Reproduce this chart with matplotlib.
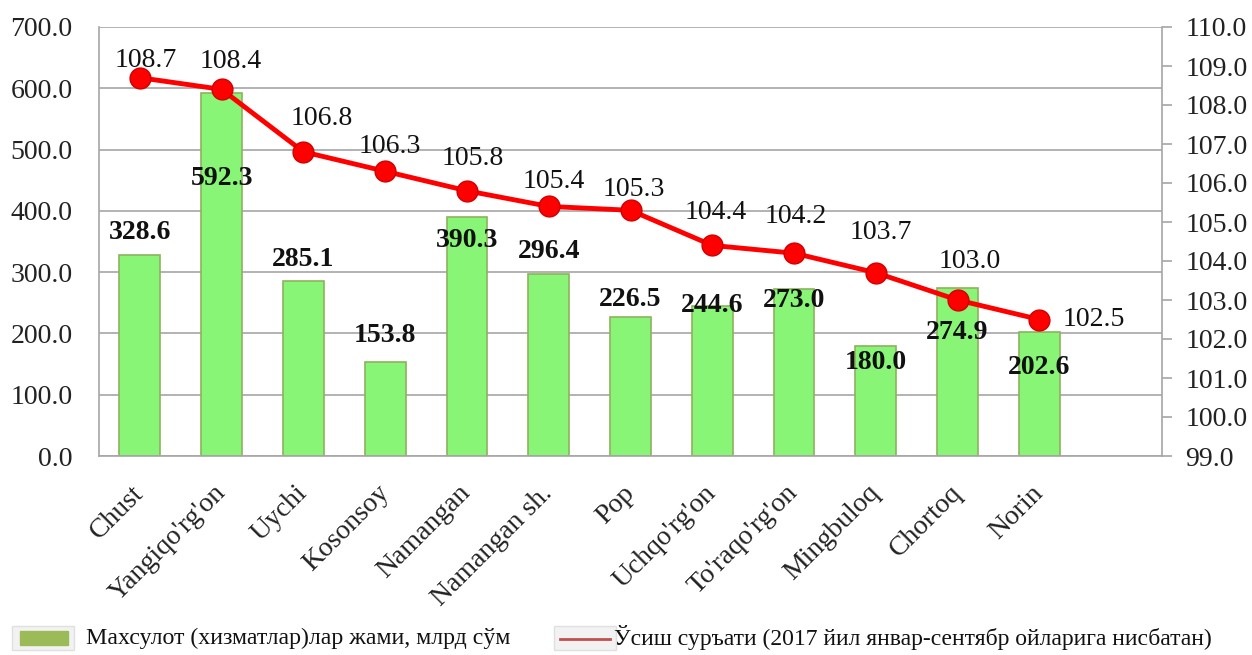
import matplotlib
matplotlib.use("Agg")
import matplotlib.pyplot as plt
import matplotlib.patches as mpatches
from matplotlib.lines import Line2D

categories = ["Chust", "Yangiqo'rg'on", "Uychi", "Kosonsoy", "Namangan", "Namangan sh.",
              "Pop", "Uchqo'rg'on", "To'raqo'rg'on", "Mingbuloq", "Chortoq", "Norin"]
volume = [328.6, 592.3, 285.1, 153.8, 390.3, 296.4, 226.5, 244.6, 273.0, 180.0, 274.9, 202.6]
growth = [108.7, 108.4, 106.8, 106.3, 105.8, 105.4, 105.3, 104.4, 104.2, 103.7, 103.0, 102.5]
left_ticks = [0, 100, 200, 300, 400, 500, 600, 700]
right_ticks = [99, 100, 101, 102, 103, 104, 105, 106, 107, 108, 109, 110]
legend_labels = ["Махсулот (хизматлар)лар жами, млрд сўм",
                 "Ўсиш суръати (2017 йил январ-сентябр ойларига нисбатан)"]

# label placement (style only): bar-label centre heights, line-label offsets in pixels
bar_label_y = [365, 453, 320, 196, 352, 333, 256, 246, 253, 153, 201, 145]
line_label_off = [(6, 17), (9, 28), (18, 33), (5, 25), (6, 32), (5, 25),
                  (3, 21), (3, 33), (2, 37), (5, 40), (12, 39), (54, 0)]

FONT = "Liberation Serif"
plt.rcParams["font.family"] = [FONT, "DejaVu Serif"]

fig = plt.figure(figsize=(12.52, 6.55), dpi=100)
ax = fig.add_axes([99/1252, 1-456/655, (1162-99)/1252, (456-27)/655])
x = list(range(len(categories)))

ax.bar(x, volume, width=0.5, color="#88F577", edgecolor="#8DB25E", linewidth=1.2, zorder=2)
ax.set_xlim(-0.5, 12.5)
ax.set_ylim(0, 700)
ax.set_yticks(left_ticks)
ax.set_yticklabels([f"{t:.1f}" for t in left_ticks], fontsize=20, color="#222222")
ax.tick_params(axis="y", length=0, pad=19)
ax.grid(axis="y", color="#A6A6A6", linewidth=1.2, zorder=0)
ax.set_axisbelow(True)
ax.set_xticks(x)
ax.set_xticklabels(categories, fontsize=20, rotation=45, ha="right", va="center",
                   rotation_mode="anchor", color="#222222")
ax.tick_params(axis="x", length=0, pad=24)
for s in ["left", "bottom"]:
    ax.spines[s].set_color("#A6A6A6")
    ax.spines[s].set_linewidth(1.2)
ax.spines["top"].set_visible(False)
ax.spines["right"].set_visible(False)

for xi, v, ly in zip(x, volume, bar_label_y):
    ax.text(xi, ly, f"{v:.1f}", ha="center", va="center", fontsize=20,
            fontweight="bold", color="#111111", zorder=5)

ax2 = ax.twinx()
ax2.set_ylim(99, 110)
ax2.set_yticks(right_ticks)
ax2.set_yticklabels([f"{t:.1f}" for t in right_ticks], fontsize=20, color="#222222")
ax2.tick_params(axis="y", length=7, width=1.2, color="#A6A6A6", pad=10, direction="out")
for s in ["left", "top", "bottom"]:
    ax2.spines[s].set_visible(False)
ax2.spines["right"].set_color("#A6A6A6")
ax2.spines["right"].set_linewidth(1.2)
ax2.plot(x, growth, color="#FF0000", linewidth=3.5, marker="o", markersize=15,
         markerfacecolor="#FF0000", markeredgecolor="#D00000", markeredgewidth=1, zorder=4)
for xi, v, (dx, dy) in zip(x, growth, line_label_off):
    ax2.annotate(f"{v:.1f}", (xi, v), xytext=(dx * 0.72, dy * 0.72), textcoords="offset points",
                 ha="center", va="center", fontsize=20, color="#111111")

# legend
fig.patches.append(mpatches.Rectangle((12/1252, 1-650/655), 62/1252, 24/655,
                   transform=fig.transFigure, facecolor="#F2F2F2", edgecolor="#E0E0E0", linewidth=1))
fig.patches.append(mpatches.Rectangle((20/1252, 1-645/655), 48/1252, 14/655,
                   transform=fig.transFigure, facecolor="#9BBB59", edgecolor="#9BBB59"))
fig.text(86/1252, 1-638/655, legend_labels[0], fontsize=17.2, va="center", ha="left", color="#111111")
fig.patches.append(mpatches.Rectangle((554/1252, 1-650/655), 62/1252, 24/655,
                   transform=fig.transFigure, facecolor="#F2F2F2", edgecolor="#E0E0E0", linewidth=1))
fig.lines.append(Line2D([560/1252, 610/1252], [1-639/655, 1-639/655], transform=fig.transFigure,
                        color="#C0504D", linewidth=2))
fig.text(614/1252, 1-638/655, legend_labels[1], fontsize=17, va="center", ha="left", color="#111111")

fig.savefig("out.png", dpi=100, facecolor="white")
